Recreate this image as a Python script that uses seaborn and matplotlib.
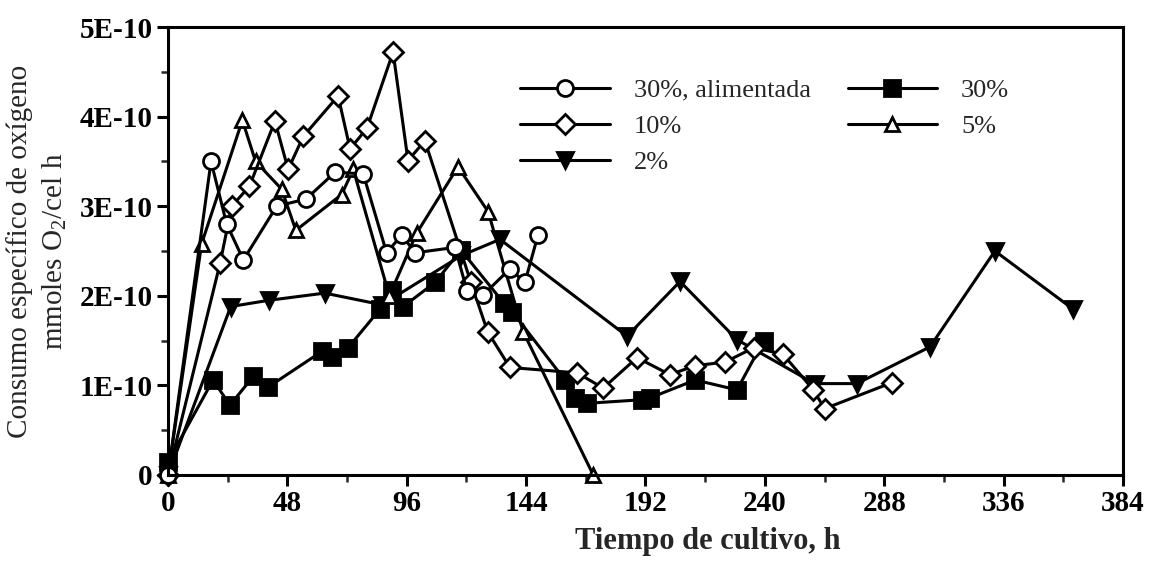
import numpy as np
import pandas as pd
import matplotlib
matplotlib.use("Agg")
import matplotlib.pyplot as plt
import seaborn as sns
from matplotlib.ticker import MultipleLocator

# Culture time (h) and specific oxygen uptake (units of 1E-10 mmol O2/cell h)
h_alim = [0, 17.3, 23.6, 30.3, 43.7, 55.5, 67.2, 78.5, 87.9, 94.0, 99.3, 115.4, 120.3, 126.7, 137.5, 143.5, 148.8]
q_alim = [0, 3.50, 2.80, 2.40, 3.00, 3.08, 3.38, 3.36, 2.48, 2.68, 2.48, 2.54, 2.05, 2.01, 2.30, 2.15, 2.68]

h_10 = [0, 21.0, 25.6, 32.7, 43.0, 48.3, 54.4, 68.4, 73.2, 80.0, 90.5, 96.5, 103.3, 121.8, 128.5, 137.5,
        164.5, 175.0, 188.6, 201.8, 212.0, 224.0, 235.5, 247.2, 259.5, 264.0, 291.0]
q_10 = [0, 2.37, 3.00, 3.22, 3.95, 3.41, 3.78, 4.23, 3.64, 3.87, 4.72, 3.51, 3.73, 2.15, 1.60, 1.20,
        1.14, 0.97, 1.31, 1.12, 1.22, 1.26, 1.42, 1.35, 0.95, 0.74, 1.03]

h_30 = [0, 18.1, 24.9, 34.3, 40.2, 61.9, 65.9, 72.4, 85.2, 90.0, 94.6, 107.4, 117.8, 135.0, 138.5,
        159.6, 163.7, 168.5, 190.6, 193.8, 212.0, 228.8, 239.5]
q_30 = [0.15, 1.06, 0.78, 1.10, 0.98, 1.38, 1.32, 1.42, 1.85, 2.07, 1.88, 2.15, 2.51, 1.92, 1.82,
        1.06, 0.86, 0.80, 0.84, 0.86, 1.06, 0.95, 1.50]

h_5 = [0, 13.5, 29.9, 35.2, 45.7, 51.4, 69.8, 74.5, 89.0, 100.0, 116.6, 128.7, 142.8, 171.0]
q_5 = [0, 2.58, 3.96, 3.50, 3.19, 2.73, 3.13, 3.41, 2.00, 2.70, 3.44, 2.94, 1.60, 0]

h_2 = [0, 25.2, 40.6, 63.0, 86.0, 118.0, 133.5, 184.6, 205.9, 228.8, 260.0, 277.0, 306.4, 332.5, 364.0]
q_2 = [0, 1.88, 1.95, 2.03, 1.90, 2.45, 2.63, 1.55, 2.16, 1.51, 1.02, 1.02, 1.43, 2.50, 1.85]

x_ticks = [0, 48, 96, 144, 192, 240, 288, 336, 384]
y_ticks = [0, 1e-10, 2e-10, 3e-10, 4e-10, 5e-10]
y_tick_labels = ["0", "1E-10", "2E-10", "3E-10", "4E-10", "5E-10"]

sns.set_theme(style="ticks")
plt.rcParams["font.family"] = ["Liberation Serif", "DejaVu Serif"]
plt.rcParams["mathtext.fontset"] = "custom"
plt.rcParams["mathtext.rm"] = "Liberation Serif"

fig = plt.figure(figsize=(11.5, 5.65), dpi=100)
ax = fig.add_axes([0.1461, 0.1593, 0.8304, 0.7929])

# (label, hours, values, marker, face colour, marker size)
series = [
    ("30%", h_30, q_30, "s", "black", 11),
    ("2%", h_2, q_2, "v", "black", 11),
    ("5%", h_5, q_5, "^", "white", 10.5),
    ("10%", h_10, q_10, "D", "white", 10),
    ("30%, alimentada", h_alim, q_alim, "o", "white", 11.5),
]

handles = {}
for label, h, q, marker, face, ms in series:
    df = pd.DataFrame({"h": h, "q": np.asarray(q) * 1e-10})
    sns.lineplot(data=df, x="h", y="q", ax=ax, sort=False, estimator=None,
                 color="black", lw=2.2, marker=marker, ms=ms,
                 markerfacecolor=face, mec="black", mew=2.0, clip_on=False)
    handles[label] = ax.get_lines()[-1]

ax.set_xlim(0, 384)
ax.set_ylim(0, 5e-10)
ax.set_xticks(x_ticks)
ax.set_xticklabels([str(t) for t in x_ticks])
ax.set_yticks(y_ticks)
ax.set_yticklabels(y_tick_labels)
ax.xaxis.set_minor_locator(MultipleLocator(24))
ax.yaxis.set_minor_locator(MultipleLocator(0.5e-10))

for s in ax.spines.values():
    s.set_linewidth(2.2)
    s.set_color("black")
ax.tick_params(which="major", direction="out", length=8, width=2.2, labelsize=21,
               colors="black", pad=3)
ax.tick_params(which="minor", direction="out", length=5, width=1.8)
for lab in ax.get_xticklabels() + ax.get_yticklabels():
    lab.set_fontweight("bold")

ax.set_xlabel("Tiempo de cultivo, h", fontsize=22, fontweight="bold")
ax.xaxis.set_label_coords(0.565, -0.115)
ax.set_ylabel("Consumo específico de oxígeno\nmmoles O$_\\mathrm{2}$/cel h",
              fontsize=21, linespacing=1.3, labelpad=8)

order = ["30%, alimentada", "10%", "2%", "30%", "5%"]
leg = ax.legend([handles[k] for k in order], order, ncol=2, frameon=False,
                loc="upper left", bbox_to_anchor=(0.355, 0.915), borderpad=0,
                handlelength=3.4, handletextpad=0.9, columnspacing=1.4,
                labelspacing=0.48, fontsize=19)

fig.savefig("out.png", dpi=100, facecolor="white")
